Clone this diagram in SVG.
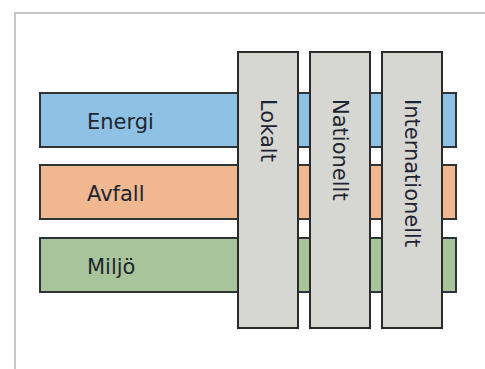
<svg xmlns="http://www.w3.org/2000/svg" width="485" height="369" viewBox="0 0 485 369">
<style>
.frame{fill:none;stroke:#c6c6c6;stroke-width:2}
.bar{stroke:#2e3338;stroke-width:2}
.col{fill:#d6d6d3;stroke:#2b2b2b;stroke-width:2}
.lbl{font-family:"DejaVu Sans",Verdana,sans-serif;font-size:21px;fill:#1f2530}
</style>
<rect width="485" height="369" fill="#ffffff"/>
<rect class="frame" x="15" y="13" width="480" height="370"/>
<g id="energi">
<rect class="bar" x="40" y="93" width="416" height="54" fill="#8ec1e4"/>
<text class="lbl" x="87" y="129">Energi</text>
</g>
<g id="avfall">
<rect class="bar" x="40" y="165" width="416" height="54" fill="#efb891"/>
<text class="lbl" x="87" y="201">Avfall</text>
</g>
<g id="miljo">
<rect class="bar" x="40" y="238" width="416" height="54" fill="#a8c49a"/>
<text class="lbl" x="87" y="274">Miljö</text>
</g>
<g id="lokalt">
<rect class="col" x="238" y="52" width="60" height="276"/>
<text class="lbl" transform="translate(261,99) rotate(90)">Lokalt</text>
</g>
<g id="nationellt">
<rect class="col" x="310" y="52" width="60" height="276"/>
<text class="lbl" transform="translate(333,99) rotate(90)">Nationellt</text>
</g>
<g id="internationellt">
<rect class="col" x="382" y="52" width="60" height="276"/>
<text class="lbl" transform="translate(405,99) rotate(90)">Internationellt</text>
</g>
<g id="connectors"/>
</svg>
